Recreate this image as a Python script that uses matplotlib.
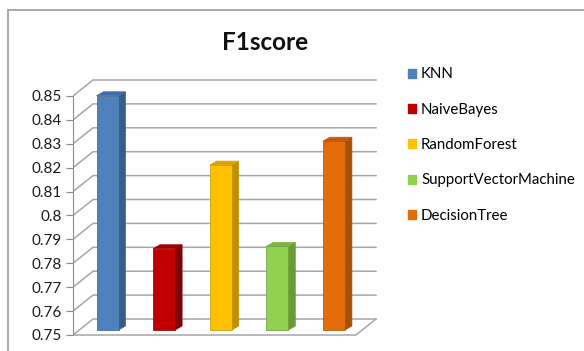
import matplotlib.pyplot as plt
from matplotlib.patches import Polygon, Patch, Rectangle

models = ['KNN', 'NaiveBayes', 'RandomForest', 'SupportVectorMachine', 'DecisionTree']
f1 = [0.848, 0.784, 0.819, 0.785, 0.829]
front = ['#4F81BD', '#C00000', '#FFC000', '#92D050', '#E46C0A']
side = ['#385D8A', '#7F0000', '#BF9000', '#6B9B37', '#A64F07']
top = ['#3F6DA4', '#A00000', '#D9A300', '#7DB640', '#C25C08']
yticks = [0.75 + 0.01 * i for i in range(11)]

plt.rcParams['font.family'] = ['Lato', 'DejaVu Sans']

fig = plt.figure(figsize=(5.84, 3.51), dpi=100)
fig.patch.set_facecolor('white')

# outer chart frame
fig.add_artist(Rectangle((8 / 584, -0.01), 1.0, 1 - 10 / 351 + 0.01, transform=fig.transFigure,
                         fill=False, edgecolor='#9A9A9A', lw=1.2))

ax = fig.add_axes([73 / 584, (351 - 338) / 351, 309 / 584, 260 / 351])
px = 0.01 / 23.9      # one pixel in value units
ux = 1 / 56.6         # one pixel in category units
x0 = -34.5 * ux
ax.set_xlim(x0, x0 + 309 * ux)
ax.set_ylim(0.75 - 3 * px, 0.85 + 18 * px)
ax.set_facecolor('none')

# walls and floor
wdx, wdy = 20 * ux, 16 * px
xf = (356 - 107.5) * ux
grid = '#A6A6A6'
for v in yticks:
    ax.plot([x0, x0 + wdx, xf + wdx], [v, v + wdy, v + wdy], color=grid, lw=1.1,
            solid_joinstyle='miter', zorder=1)
ax.plot([x0, xf, xf + wdx], [0.75, 0.75, 0.75 + wdy], color=grid, lw=1.1, zorder=1)

# 3d columns
base = 0.75 + 5 * px
bw = 22 * ux
bdx, bdy = 7 * ux, 4 * px
for i, v in enumerate(f1):
    l, r = i - bw / 2, i + bw / 2
    h = v + 5 * px
    ax.add_patch(Polygon([(r, base), (r + bdx, base + bdy), (r + bdx, h + bdy), (r, h)],
                         closed=True, facecolor=side[i], edgecolor=side[i], lw=0.5, zorder=3))
    ax.add_patch(Polygon([(l, h), (r, h), (r + bdx, h + bdy), (l + bdx, h + bdy)],
                         closed=True, facecolor=top[i], edgecolor=top[i], lw=0.5, zorder=3))
    ax.add_patch(Rectangle((l, base), bw, h - base, facecolor=front[i],
                           edgecolor=side[i], lw=0.5, zorder=4))

for s in ['top', 'right', 'bottom']:
    ax.spines[s].set_visible(False)
ax.spines['left'].set_bounds(0.75, 0.85)
ax.spines['left'].set_color('#8C8C8C')
ax.set_xticks([])
ax.set_yticks(yticks)
ax.set_yticklabels(['0.75', '0.76', '0.77', '0.78', '0.79', '0.8', '0.81', '0.82', '0.83', '0.84', '0.85'])
ax.tick_params(axis='y', length=5, color='#8C8C8C', labelsize=11, labelcolor='#1A1A1A', pad=3)

fig.text(265 / 584, 1 - 42 / 351, 'F1score', ha='center', va='center',
         fontsize=17.5, fontweight='bold', color='#111111')

handles = [Patch(facecolor=c, edgecolor=c) for c in front]
fig.legend(handles, models, loc='upper left', bbox_to_anchor=(400 / 584, 1 - 60 / 351),
           frameon=False, fontsize=10.8, handlelength=0.55, handleheight=0.55,
           handletextpad=0.35, labelspacing=1.42, borderpad=0)

fig.savefig('out.png', dpi=100)
